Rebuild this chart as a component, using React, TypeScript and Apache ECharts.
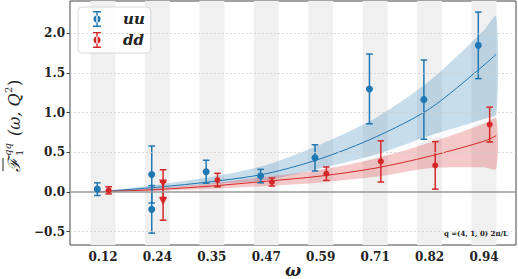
import React, { useEffect, useRef } from "react";
import * as echarts from "echarts";

// nominal omega values of the lattice momenta (tick positions)
const OMEGA_TICKS = [0.1178, 0.2356, 0.3534, 0.4712, 0.589, 0.7069, 0.8247, 0.9425];
const Y_TICKS = [-0.5, 0.0, 0.5, 1.0, 1.5, 2.0];

// lattice data: uu
const uuOmega = [0.1178, 0.2356, 0.2356, 0.3534, 0.4712, 0.589, 0.7069, 0.8247, 0.9425];
const uuValue = [0.035, 0.22, -0.22, 0.255, 0.2, 0.43, 1.3, 1.165, 1.85];
const uuError = [0.08, 0.36, 0.3, 0.145, 0.085, 0.165, 0.44, 0.5, 0.42];

// lattice data: dd
const ddOmega = [0.1178, 0.2356, 0.2356, 0.3534, 0.4712, 0.589, 0.7069, 0.8247, 0.9425];
const ddValue = [0.02, 0.105, -0.117, 0.15, 0.125, 0.23, 0.385, 0.335, 0.85];
const ddError = [0.045, 0.175, 0.24, 0.085, 0.05, 0.085, 0.26, 0.3, 0.22];
const ddMarker = ["circle", "triangle", "triangle", "circle", "circle", "circle", "circle", "circle", "circle"];

// fit curves and bands
const fitOmega = [0.108, 0.1178, 0.2356, 0.3534, 0.4712, 0.589, 0.7069, 0.8247, 0.9425, 0.969];
const uuFit = [0.0, 0.005, 0.06, 0.13, 0.23, 0.42, 0.69, 1.05, 1.6, 1.74];
const uuUpper = [0.002, 0.01, 0.09, 0.19, 0.34, 0.6, 0.93, 1.4, 2.04, 2.22];
const uuLower = [-0.002, 0.0, 0.035, 0.1, 0.15, 0.3, 0.47, 0.71, 0.92, 0.98];
const uuHaloLower = [-0.002, 0.0, 0.035, 0.1, 0.14, 0.27, 0.43, 0.66, 0.88, 0.93];
const ddFit = [0.0, 0.003, 0.03, 0.075, 0.135, 0.2, 0.3, 0.45, 0.64, 0.71];
const ddUpper = [0.002, 0.006, 0.05, 0.11, 0.19, 0.28, 0.42, 0.62, 0.86, 0.93];
const ddLower = [-0.002, 0.0, 0.015, 0.04, 0.075, 0.12, 0.19, 0.3, 0.31, 0.29];

const BLUE = "#1f77b4";
const RED = "#d62728";
const OFFSET = 0.0123;
const STRIPE_HALF = 0.027;
const SERIF = "DejaVu Serif";

const errorBarRender = (color: string) => (params: any, api: any) => {
  const x = api.value(0);
  const y = api.value(1);
  const e = api.value(2);
  const top = api.coord([x, y + e]);
  const bot = api.coord([x, y - e]);
  const hw = 3.3;
  const st = { stroke: color, lineWidth: 1.5 };
  return {
    type: "group",
    children: [
      { type: "line", shape: { x1: top[0], y1: top[1], x2: bot[0], y2: bot[1] }, style: st },
      { type: "line", shape: { x1: top[0] - hw, y1: top[1], x2: top[0] + hw, y2: top[1] }, style: st },
      { type: "line", shape: { x1: bot[0] - hw, y1: bot[1], x2: bot[0] + hw, y2: bot[1] }, style: st },
    ],
  };
};

// band drawn as one polygon through the library's coordinate system
const bandSeries = (name: string, lower: number[], upper: number[], color: string, z: number) => ({
  type: "custom",
  name,
  z,
  silent: true,
  encode: { x: 0, y: [1, 2] },
  data: fitOmega.map((w, i) => [w, lower[i], upper[i]]),
  renderItem: (params: any, api: any) => {
    if (params.dataIndex !== 0) return null;
    const up = fitOmega.map((w, i) => api.coord([w, upper[i]]));
    const lo = fitOmega.map((w, i) => api.coord([w, lower[i]]));
    return {
      type: "group",
      children: [
        {
          type: "polygon",
          shape: { points: up.concat(lo.slice().reverse()), smooth: 0.25 },
          style: { fill: color, stroke: "none" },
        },
      ],
    };
  },
});

const ICON =
  "path://M0,0H8V1.4H0Z M3.3,0H4.7V16H3.3Z M0,14.6H8V16H0Z M0.5,8A3.5,3.5 0 1 0 7.5,8A3.5,3.5 0 1 0 0.5,8Z";

export default function App() {
  const ref = useRef<HTMLDivElement>(null);
  useEffect(() => {
    if (!ref.current) return;
    const chart = echarts.init(ref.current, null, { renderer: "svg" });
    const labelStyle = { fontFamily: SERIF, fontWeight: "bold", fontSize: 12, color: "#222" };
    const option: any = {
      animation: false,
      grid: { left: 70, right: 2, top: 1, bottom: 34, show: true, borderColor: "#444", borderWidth: 1 },
      legend: {
        data: [
          { name: "uu", icon: ICON },
          { name: "dd", icon: ICON },
        ],
        orient: "vertical",
        left: 78,
        top: 7,
        itemWidth: 8,
        itemHeight: 16,
        itemGap: 5,
        padding: [4, 6, 5, 15],
        backgroundColor: "rgba(255,255,255,0.85)",
        borderColor: "#d8d8d8",
        borderWidth: 1,
        borderRadius: 4,
        formatter: "{a|{name}}",
        textStyle: {
          fontFamily: SERIF,
          fontStyle: "italic",
          fontWeight: "bold",
          fontSize: 15,
          color: "#222",
          rich: {
            a: {
              fontFamily: SERIF,
              fontStyle: "italic",
              fontWeight: "bold",
              fontSize: 15,
              color: "#222",
              padding: [0, 0, 0, 17],
            },
          },
        },
      },
      xAxis: {
        type: "value",
        min: 0.0464,
        max: 1.0118,
        splitLine: { show: false },
        axisLine: { show: false },
        axisTick: { show: true, customValues: OMEGA_TICKS, length: 3.5, lineStyle: { color: "#444" } },
        axisLabel: {
          ...labelStyle,
          margin: 6,
          customValues: OMEGA_TICKS,
          formatter: (v: number) => v.toFixed(2),
        },
      },
      yAxis: {
        type: "value",
        min: -0.67,
        max: 2.41,
        splitLine: { show: false },
        axisLine: { show: false },
        axisTick: { show: true, customValues: Y_TICKS, length: 3.5, lineStyle: { color: "#444" } },
        axisLabel: {
          ...labelStyle,
          margin: 5,
          customValues: Y_TICKS,
          formatter: (v: number) => (v < 0 ? "\u2212" : "") + Math.abs(v).toFixed(1),
        },
      },
      graphic: [
        {
          type: "group",
          x: 14,
          y: 125,
          z: 100,
          rotation: Math.PI / 2,
          silent: true,
          children: [
            { type: "line", shape: { x1: -46, y1: -11, x2: -33, y2: -11 }, style: { stroke: "#222", lineWidth: 1 } },
            {
              type: "text", x: -47, y: 0,
              style: { text: "\u2131", fontFamily: SERIF, fontSize: 17, fontStyle: "italic", fill: "#222", align: "left", verticalAlign: "middle" },
            },
            {
              type: "text", x: -31, y: -7,
              style: { text: "qq", fontFamily: SERIF, fontSize: 10, fontStyle: "italic", fill: "#222", align: "left", verticalAlign: "middle" },
            },
            {
              type: "text", x: -31, y: 5,
              style: { text: "1", fontFamily: SERIF, fontSize: 10, fill: "#222", align: "left", verticalAlign: "middle" },
            },
            {
              type: "text", x: -11, y: 0,
              style: { text: "(\u03c9, Q", fontFamily: SERIF, fontSize: 16, fontStyle: "italic", fill: "#222", align: "left", verticalAlign: "middle" },
            },
            {
              type: "text", x: 32, y: -6,
              style: { text: "2", fontFamily: SERIF, fontSize: 10, fill: "#222", align: "left", verticalAlign: "middle" },
            },
            {
              type: "text", x: 39, y: 0,
              style: { text: ")", fontFamily: SERIF, fontSize: 16, fill: "#222", align: "left", verticalAlign: "middle" },
            },
          ],
        },
        {
          type: "text",
          x: 293,
          y: 270,
          z: 100,
          silent: true,
          style: { text: "\u03c9", fontFamily: SERIF, fontSize: 17, fontStyle: "italic", fontWeight: "bold", fill: "#222", align: "center", verticalAlign: "middle" },
        },
        {
          type: "text",
          x: 508,
          y: 233,
          z: 100,
          silent: true,
          style: {
            text: "q =(4, 1, 0) 2\u03c0/L",
            fontFamily: SERIF,
            fontSize: 7,
            fontWeight: "bold",
            fill: "#222",
            align: "right",
            verticalAlign: "middle",
          },
        },
      ],
      series: [
        {
          type: "line",
          name: "background",
          data: [],
          silent: true,
          z: 0,
          markArea: {
            silent: true,
            itemStyle: { color: "#f0f0f0" },
            data: OMEGA_TICKS.map((w) => [{ xAxis: w - STRIPE_HALF }, { xAxis: w + STRIPE_HALF }]),
          },
          markLine: {
            silent: true,
            symbol: ["none", "none"],
            label: { show: false },
            lineStyle: { color: "#cfcfcf", type: [2, 2], width: 0.8 },
            data: Y_TICKS.filter((v) => v !== 0).map((v) => ({ yAxis: v })),
          },
        },
        bandSeries("uu-halo", uuHaloLower, uuLower, "rgba(250,251,253,0.9)", 1),
        bandSeries("uu-band", uuLower, uuUpper, "rgba(31,119,180,0.25)", 1),
        bandSeries("dd-band", ddLower, ddUpper, "rgba(214,39,40,0.25)", 1),
        {
          type: "line",
          name: "zero",
          data: [],
          silent: true,
          z: 2,
          markLine: {
            silent: true,
            symbol: ["none", "none"],
            label: { show: false },
            lineStyle: { color: "#9a9a9a", type: "solid", width: 1.6 },
            data: [{ yAxis: 0 }],
          },
        },
        {
          type: "line",
          name: "uu-fit",
          z: 3,
          data: fitOmega.map((w, i) => [w, uuFit[i]]),
          symbol: "none",
          smooth: 0.3,
          lineStyle: { color: BLUE, width: 1 },
          silent: true,
        },
        {
          type: "line",
          name: "dd-fit",
          z: 3,
          data: fitOmega.map((w, i) => [w, ddFit[i]]),
          symbol: "none",
          smooth: 0.3,
          lineStyle: { color: RED, width: 1 },
          silent: true,
        },
        {
          type: "custom",
          name: "uu-err",
          z: 4,
          renderItem: errorBarRender(BLUE),
          encode: { x: 0, y: 1 },
          data: uuOmega.map((w, i) => [w - OFFSET, uuValue[i], uuError[i]]),
          silent: true,
        },
        {
          type: "custom",
          name: "dd-err",
          z: 4,
          renderItem: errorBarRender(RED),
          encode: { x: 0, y: 1 },
          data: ddOmega.map((w, i) => [w + OFFSET, ddValue[i], ddError[i]]),
          silent: true,
        },
        {
          type: "scatter",
          name: "uu",
          z: 5,
          symbol: "circle",
          symbolSize: 7,
          itemStyle: { color: BLUE, opacity: 1 },
          data: uuOmega.map((w, i) => [w - OFFSET, uuValue[i]]),
        },
        {
          type: "scatter",
          name: "dd",
          z: 5,
          symbolSize: 6,
          itemStyle: { color: RED, opacity: 1 },
          data: ddOmega.map((w, i) => ({
            value: [w + OFFSET, ddValue[i]],
            symbol: ddMarker[i],
            symbolRotate: ddMarker[i] === "triangle" ? 180 : 0,
            symbolSize: ddMarker[i] === "triangle" ? 8 : 6,
          })),
        },
      ],
    };
    chart.setOption(option);
    return () => chart.dispose();
  }, []);
  return <div ref={ref} style={{ width: 518, height: 279, position: "absolute", left: 0, top: 0 }} />;
}
